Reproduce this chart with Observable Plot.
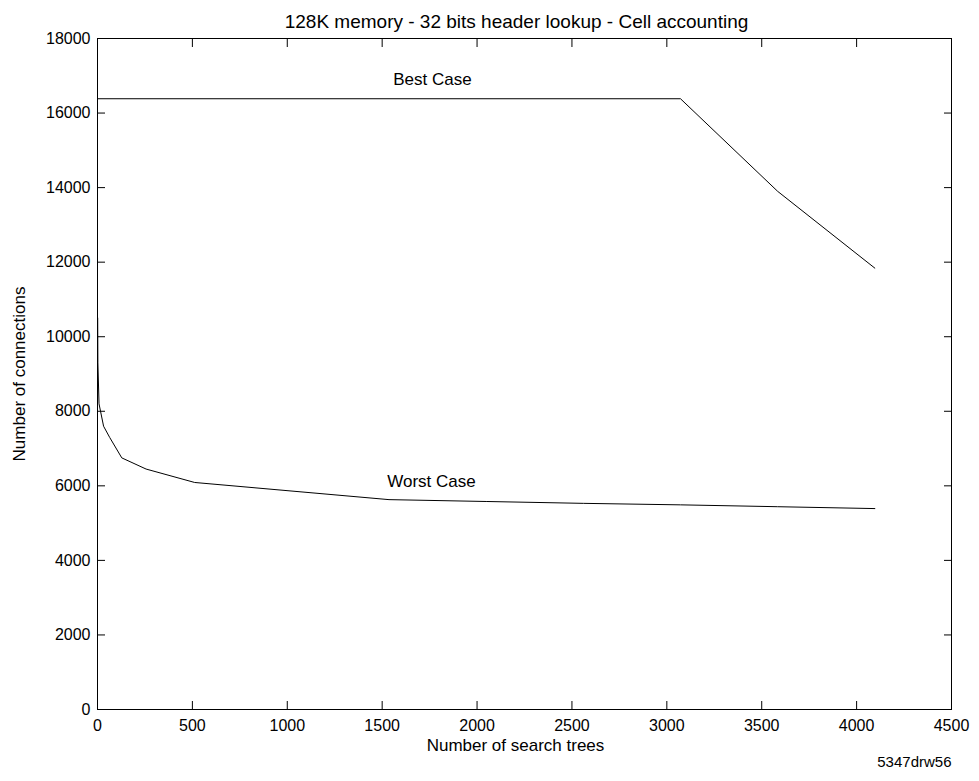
<!DOCTYPE html>
<html>
<head>
<meta charset="utf-8">
<script src="https://cdn.jsdelivr.net/npm/d3@7"></script>
<script src="https://cdn.jsdelivr.net/npm/@observablehq/plot@0.6"></script>
<style>
  html, body { margin: 0; padding: 0; background: #fff; }
  #chart svg { display: block; }
</style>
</head>
<body>
<div id="chart"></div>
<script>
const titleText = "128K memory - 32 bits header lookup - Cell accounting";
const xLabel = "Number of search trees";
const yLabel = "Number of connections";
const captionText = "5347drw56";

const bestX = [1, 3072, 3584, 4096];
const bestY = [16384, 16384, 13900, 11840];

const worstX = [1, 2, 8, 32, 64, 128, 256, 512, 1536, 2048, 2560, 3072, 3584, 4096];
const worstY = [10500, 9300, 8200, 7600, 7300, 6750, 6450, 6090, 5630, 5580, 5530, 5490, 5440, 5390];

const xTicks = [0, 500, 1000, 1500, 2000, 2500, 3000, 3500, 4000, 4500];
const yTicks = [0, 2000, 4000, 6000, 8000, 10000, 12000, 14000, 16000, 18000];

const labelNames = ["Best Case", "Worst Case"];
const labelX = [1765, 1760];
const labelY = [16890, 6113];

const best = bestX.map((x, i) => ({x, y: bestY[i]}));
const worst = worstX.map((x, i) => ({x, y: worstY[i]}));
const labels = labelNames.map((t, i) => ({t, x: labelX[i], y: labelY[i]}));

const chart = Plot.plot({
  width: 979,
  height: 781,
  marginLeft: 97,
  marginRight: 28,
  marginTop: 38,
  marginBottom: 72,
  style: {fontFamily: "'Liberation Sans', Arial, sans-serif", fontSize: "16px", background: "#fff", color: "#000"},
  x: {domain: [0, 4500], ticks: xTicks},
  y: {domain: [0, 18000], ticks: yTicks},
  marks: [
    Plot.axisX(xTicks, {anchor: "bottom", tickSize: -8, tickFormat: () => "", label: null}),
    Plot.axisX(xTicks, {anchor: "top", tickSize: -8, tickFormat: () => "", label: null}),
    Plot.axisY(yTicks, {anchor: "left", tickSize: -8, tickFormat: () => "", label: null}),
    Plot.axisY(yTicks, {anchor: "right", tickSize: -8, tickFormat: () => "", label: null}),
    Plot.axisX(xTicks, {anchor: "bottom", tickSize: 0, tickPadding: 10, tickFormat: d => String(d), label: null, fontSize: 16}),
    Plot.axisY(yTicks, {anchor: "left", tickSize: 0, tickPadding: 7, tickFormat: d => String(d), label: null, fontSize: 16}),
    Plot.frame({stroke: "#000", strokeWidth: 1}),
    Plot.line(best, {x: "x", y: "y", stroke: "#000", strokeWidth: 1}),
    Plot.line(worst, {x: "x", y: "y", stroke: "#000", strokeWidth: 1}),
    Plot.text(labels, {x: "x", y: "y", text: "t", fontSize: 17, fill: "#000"}),
    Plot.text([titleText], {frameAnchor: "top", dy: -24, dx: -8, fontSize: 19, fill: "#000"}),
    Plot.text([xLabel], {frameAnchor: "bottom", dy: 41, dx: -9, fontSize: 17, fill: "#000"}),
    Plot.text([yLabel], {frameAnchor: "left", rotate: -90, dx: -78, textAnchor: "middle", fontSize: 17, fill: "#000"}),
    Plot.text([captionText], {frameAnchor: "bottom-right", dy: 57, dx: 0, textAnchor: "end", fontSize: 15, fill: "#000"})
  ]
});
document.getElementById("chart").appendChild(chart);
</script>
</body>
</html>
